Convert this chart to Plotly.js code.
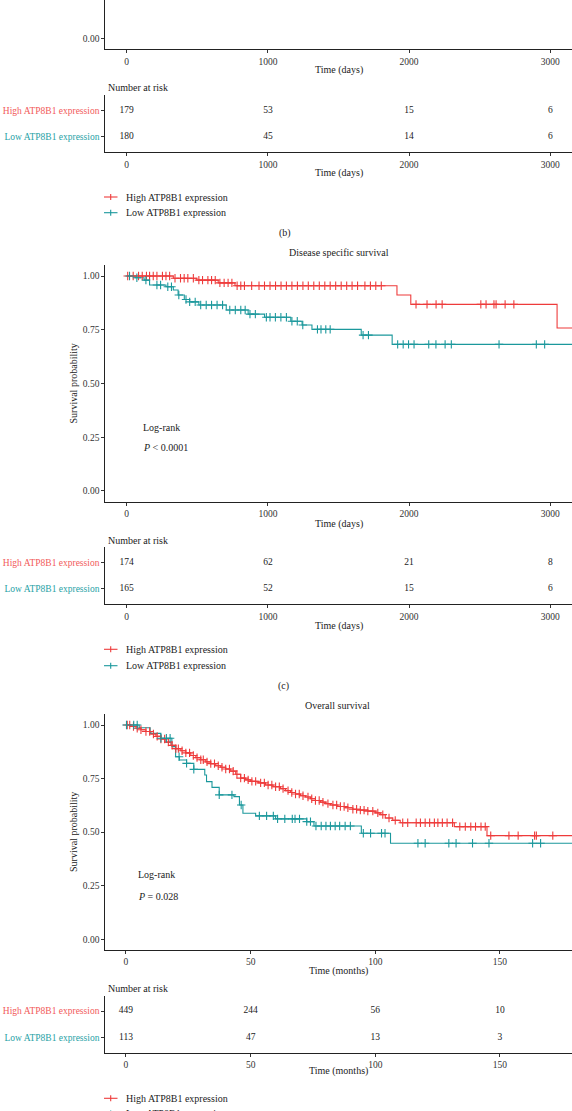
<!DOCTYPE html>
<html>
<head>
<meta charset="utf-8">
<script src="https://cdn.plot.ly/plotly-3.0.1.min.js"></script>
<style>html,body{margin:0;padding:0;background:#fff;}#chart{width:572px;height:1111px;}</style>
</head>
<body>
<div id="chart"></div>
<script>
// ---------------- DATA ----------------
// Disease specific survival (days) - step curves (time of event, survival after event)
const dssHighTime = [0, 330, 496, 648, 767, 1914, 2012, 3048, 3300];
const dssHighSurv = [1, 0.990, 0.981, 0.968, 0.955, 0.912, 0.868, 0.758, 0.758];
const dssLowTime = [0, 59, 123, 162, 278, 330, 364, 408, 446, 511, 705, 860, 976, 1162, 1242, 1312, 1661, 1880, 3300];
const dssLowSurv = [1, 0.992, 0.981, 0.958, 0.950, 0.935, 0.912, 0.891, 0.880, 0.865, 0.842, 0.823, 0.808, 0.790, 0.772, 0.752, 0.725, 0.682, 0.682];
// censoring times (days)
const dssHighCensor = [7, 46, 84, 110, 140, 162, 188, 214, 253, 278, 304, 342, 381, 407, 433, 472, 511, 537, 575, 601, 627, 660, 690, 718, 745, 782, 808, 834, 885, 937, 976, 1015, 1054, 1093, 1131, 1170, 1209, 1248, 1286, 1325, 1364, 1403, 1441, 1480, 1519, 1558, 1596, 1635, 1687, 1726, 1764, 1803, 2049, 2127, 2191, 2234, 2508, 2545, 2601, 2616, 2680, 2742];
const dssLowCensor = [20, 72, 136, 214, 240, 291, 317, 369, 420, 446, 485, 524, 563, 601, 640, 679, 730, 769, 808, 839, 873, 911, 989, 1015, 1053, 1092, 1131, 1170, 1208, 1247, 1351, 1376, 1410, 1441, 1674, 1712, 1919, 1958, 1996, 2035, 2139, 2190, 2255, 2299, 2637, 2901, 2960];

// Overall survival (months)
const osHighTime = [0, 2, 4, 6, 8, 10, 12, 14, 16, 18, 20, 22, 24, 26, 28, 30, 32, 34, 36, 38, 40, 42, 44, 46, 48, 50, 53, 56, 59, 62, 64, 66, 68, 70, 72, 74, 76, 78, 80, 82, 85, 88, 91, 94, 97, 100, 102, 104, 107, 110, 131.7, 144.8, 185];
const osHighSurv = [1, 0.993, 0.985, 0.978, 0.970, 0.958, 0.947, 0.935, 0.920, 0.905, 0.890, 0.880, 0.870, 0.858, 0.848, 0.838, 0.828, 0.820, 0.810, 0.803, 0.795, 0.785, 0.770, 0.752, 0.744, 0.737, 0.730, 0.720, 0.712, 0.703, 0.694, 0.685, 0.678, 0.670, 0.664, 0.656, 0.648, 0.640, 0.633, 0.627, 0.620, 0.614, 0.607, 0.603, 0.598, 0.590, 0.582, 0.566, 0.555, 0.544, 0.526, 0.484, 0.484];
const osLowTime = [0, 5.3, 9.7, 14, 18.4, 19.9, 21.4, 24.3, 27.2, 31.6, 32.3, 34.5, 37.4, 43.3, 45.5, 46.9, 52, 60, 72.5, 75.4, 94.4, 106.1, 185];
const osLowSurv = [1, 0.987, 0.961, 0.938, 0.899, 0.852, 0.837, 0.821, 0.793, 0.767, 0.736, 0.709, 0.674, 0.666, 0.627, 0.588, 0.576, 0.562, 0.549, 0.529, 0.495, 0.448, 0.448];
const osHighCensor = [0.5, 1.5, 3, 4.5, 6, 8, 9.5, 11, 12.5, 14, 15.5, 17, 18.5, 20, 21, 22.5, 24, 25.5, 27, 28.5, 30, 31, 32.5, 34, 35.5, 37, 38.5, 40, 41.5, 43, 44.5, 46, 47.5, 49, 50.5, 52, 54, 55.5, 57, 58.5, 60, 61.5, 63, 65, 66.5, 68, 69.5, 71, 73, 74.5, 76, 77.5, 79, 81, 83, 84.5, 86, 87.5, 89, 91, 92.5, 94, 95.5, 97, 99, 101, 103, 105.5, 108, 111, 113, 116.4, 118.1, 120, 121.8, 123.7, 125.1, 126.9, 128.8, 131, 133.9, 136.1, 138.3, 140.2, 142.4, 144.1, 146.3, 153.6, 157.3, 163.9, 164.6, 171.2];
const osLowCensor = [0.2, 3.1, 4.5, 14.0, 16.2, 17.7, 21.3, 24.3, 27.2, 37.4, 42.5, 46.2, 53.5, 56.4, 59.1, 60.8, 63.7, 66.7, 67.8, 69.6, 72.5, 74, 76.2, 78.3, 80.2, 82, 83.9, 85.7, 87.9, 90, 95.2, 98.1, 102.5, 103.9, 117.1, 120, 129.5, 132.4, 139, 145.6, 163.1, 166.3];

// Number at risk tables
const riskDaysTimes = [0, 1000, 2000, 3000];
const riskB_High = [179, 53, 15, 6];
const riskB_Low = [180, 45, 14, 6];
const riskC_High = [174, 62, 21, 8];
const riskC_Low = [165, 52, 15, 6];
const riskMonthsTimes = [0, 50, 100, 150];
const riskD_High = [449, 244, 56, 10];
const riskD_Low = [113, 47, 13, 3];

const groupNames = ['High ATP8B1 expression', 'Low ATP8B1 expression'];

// ---------------- STYLE ----------------
const W = 572, H = 1111;
const fx = x => x / W;
const fy = y => 1 - y / H;
const RED = '#EE3B3B', TEAL = '#1B989C';
const RED_TXT = '#F25A5A', TEAL_TXT = '#27A2A6';
const FONT = 'Liberation Serif, Times New Roman, serif';
const TXT = '#222222';

function survAt(times, surv, t) {
  let s = surv[0];
  for (let i = 0; i < times.length; i++) { if (times[i] <= t) s = surv[i]; }
  return s;
}

function curve(times, surv, color, xa, ya) {
  return {x: times, y: surv, xaxis: xa, yaxis: ya, type: 'scatter', mode: 'lines',
    line: {shape: 'hv', color: color, width: 1.1}, showlegend: false, hoverinfo: 'skip'};
}
function censor(ct, times, surv, color, xa, ya) {
  return {x: ct, y: ct.map(t => survAt(times, surv, t)), xaxis: xa, yaxis: ya, type: 'scatter', mode: 'markers',
    marker: {symbol: 'cross-thin-open', size: 6, line: {width: 1.1, color: color}, color: color},
    showlegend: false, hoverinfo: 'skip'};
}
function riskRow(times, vals, yv, xa, ya) {
  return {x: times, y: times.map(() => yv), text: vals.map(String), xaxis: xa, yaxis: ya, type: 'scatter', mode: 'text',
    textfont: {family: FONT, size: 9.5, color: TXT}, textposition: 'middle center', cliponaxis: false,
    showlegend: false, hoverinfo: 'skip'};
}

const data = [
  {x: [], y: [], xaxis: 'x', yaxis: 'y', type: 'scatter', mode: 'lines', showlegend: false},
  riskRow(riskDaysTimes, riskB_High, 2, 'x2', 'y2'),
  riskRow(riskDaysTimes, riskB_Low, 1, 'x2', 'y2'),
  curve(dssHighTime, dssHighSurv, RED, 'x3', 'y3'),
  curve(dssLowTime, dssLowSurv, TEAL, 'x3', 'y3'),
  censor(dssHighCensor, dssHighTime, dssHighSurv, RED, 'x3', 'y3'),
  censor(dssLowCensor, dssLowTime, dssLowSurv, TEAL, 'x3', 'y3'),
  riskRow(riskDaysTimes, riskC_High, 2, 'x4', 'y4'),
  riskRow(riskDaysTimes, riskC_Low, 1, 'x4', 'y4'),
  curve(osHighTime, osHighSurv, RED, 'x5', 'y5'),
  curve(osLowTime, osLowSurv, TEAL, 'x5', 'y5'),
  censor(osHighCensor, osHighTime, osHighSurv, RED, 'x5', 'y5'),
  censor(osLowCensor, osLowTime, osLowSurv, TEAL, 'x5', 'y5'),
  riskRow(riskMonthsTimes, riskD_High, 2, 'x6', 'y6'),
  riskRow(riskMonthsTimes, riskD_Low, 1, 'x6', 'y6')
];

const xDom = [fx(105.3), 1];
const daysRange = [-151.6, 3153.7];
const monthsRange = [-8.3, 178.9];
const tickFont = {family: FONT, size: 9.5, color: '#333333'};
function xAx(range, tickvals, anchor) {
  return {domain: xDom, range: range, anchor: anchor, tickvals: tickvals, ticktext: tickvals.map(String),
    showline: true, linecolor: '#222', linewidth: 1, ticks: 'outside', ticklen: 3, tickcolor: '#333', tickwidth: 1,
    showgrid: false, zeroline: false, tickfont: tickFont, fixedrange: true};
}
function yAxMain(anchor, top, bottom, range) {
  return {domain: [fy(bottom), fy(top)], range: range, anchor: anchor, tickvals: [0, 0.25, 0.5, 0.75, 1],
    ticktext: ['0.00', '0.25', '0.50', '0.75', '1.00'],
    showline: true, linecolor: '#222', linewidth: 1, ticks: 'outside', ticklen: 3, tickcolor: '#333', tickwidth: 1,
    showgrid: false, zeroline: false, tickfont: tickFont, fixedrange: true};
}
function yAxTable(anchor, top, bottom) {
  return {domain: [fy(bottom), fy(top)], range: [0.42, 2.58], anchor: anchor, tickvals: [1, 2],
    ticktext: ['<span style="color:' + TEAL_TXT + '">' + groupNames[1] + '</span>',
               '<span style="color:' + RED_TXT + '">' + groupNames[0] + '</span>'],
    showline: true, linecolor: '#222', linewidth: 1, ticks: 'outside', ticklen: 3, tickcolor: '#333', tickwidth: 1,
    showgrid: false, zeroline: false, tickfont: {family: FONT, size: 9.5, color: TXT}, fixedrange: true};
}

const ann = [];
function txt(text, x, y, opts) {
  ann.push(Object.assign({text: text, xref: 'paper', yref: 'paper', x: fx(x), y: fy(y), showarrow: false,
    xanchor: 'center', yanchor: 'middle', font: {family: FONT, size: 10, color: TXT}}, opts || {}));
}
const shapes = [];
function legendItem(label, color, y) {
  shapes.push({type: 'line', xref: 'paper', yref: 'paper', x0: fx(104), x1: fx(117.5), y0: fy(y), y1: fy(y),
    line: {color: color, width: 1.1}});
  shapes.push({type: 'line', xref: 'paper', yref: 'paper', x0: fx(110.7), x1: fx(110.7), y0: fy(y - 3), y1: fy(y + 3),
    line: {color: color, width: 1.1}});
  txt(label, 123.5, y, {xanchor: 'left'});
}

// Panel (b) bottom part
txt('Time (days)', 338.7, 70);
txt('Number at risk', 105.8, 87.3, {xanchor: 'left'});
txt('Time (days)', 338.7, 173);
legendItem(groupNames[0], RED, 197);
legendItem(groupNames[1], TEAL, 212.7);
txt('(b)', 284.6, 233.3);

// Panel (c)
txt('Disease specific survival', 338.7, 252.3);
txt('Survival probability', 73, 383.5, {textangle: -90});
txt('Log-rank', 140.5, 427, {xanchor: 'left'});
txt('<i>P</i> < 0.0001', 140.5, 447.7, {xanchor: 'left'});
txt('Time (days)', 338.7, 524);
txt('Number at risk', 105.8, 540, {xanchor: 'left'});
txt('Time (days)', 338.7, 626);
legendItem(groupNames[0], RED, 649.3);
legendItem(groupNames[1], TEAL, 665.7);
txt('(c)', 283.8, 686);

// Panel (d)
txt('Overall survival', 337.5, 705.7);
txt('Survival probability', 73, 832, {textangle: -90});
txt('Log-rank', 135.7, 874.7, {xanchor: 'left'});
txt('<i>P</i> = 0.028', 135.7, 896.7, {xanchor: 'left'});
txt('Time (months)', 338.7, 971);
txt('Number at risk', 105.8, 988.3, {xanchor: 'left'});
txt('Time (months)', 338.7, 1071);
legendItem(groupNames[0], RED, 1098.3);
legendItem(groupNames[1], TEAL, 1113.5);

const layout = {
  width: W, height: H,
  margin: {l: 0, r: 0, t: 0, b: 0, pad: 0},
  paper_bgcolor: '#fff', plot_bgcolor: '#fff',
  showlegend: false,
  font: {family: FONT, size: 10, color: TXT},
  xaxis: xAx(daysRange, riskDaysTimes, 'y'),
  yaxis: Object.assign(yAxMain('x', 0, 49.3, [-0.05, 0.1794]), {tickvals: [0], ticktext: ['0.00']}),
  xaxis2: xAx(daysRange, riskDaysTimes, 'y2'),
  yaxis2: yAxTable('x2', 95, 152.3),
  xaxis3: xAx(daysRange, riskDaysTimes, 'y3'),
  yaxis3: yAxMain('x3', 265.3, 501.7, [-0.05, 1.05]),
  xaxis4: xAx(daysRange, riskDaysTimes, 'y4'),
  yaxis4: yAxTable('x4', 547, 604.3),
  xaxis5: xAx(monthsRange, riskMonthsTimes, 'y5'),
  yaxis5: yAxMain('x5', 714.3, 950, [-0.05, 1.05]),
  xaxis6: xAx(monthsRange, riskMonthsTimes, 'y6'),
  yaxis6: yAxTable('x6', 995.7, 1052.7),
  annotations: ann,
  shapes: shapes
};

Plotly.newPlot('chart', data, layout, {staticPlot: true, displayModeBar: false});
</script>
</body>
</html>
